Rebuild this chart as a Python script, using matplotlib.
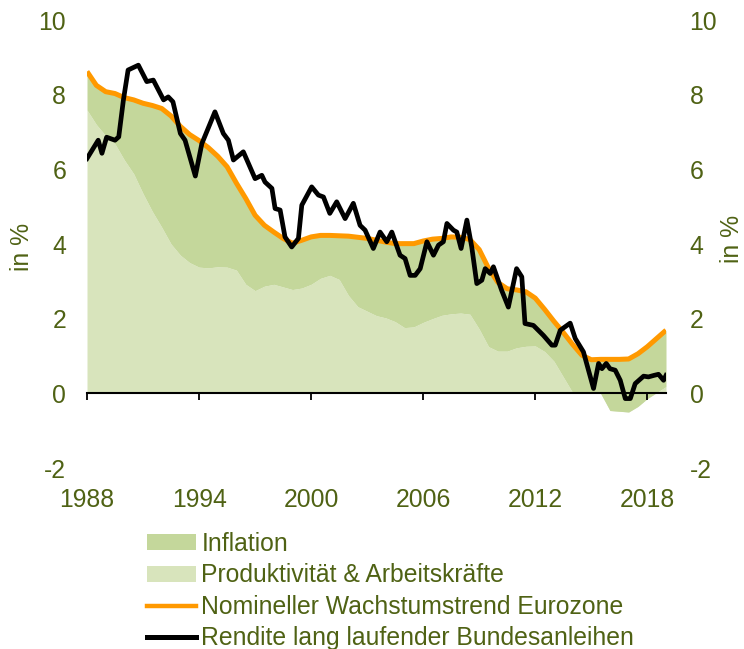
import numpy as np
import matplotlib
matplotlib.use("Agg")
import matplotlib.pyplot as plt
from matplotlib.patches import Patch
from matplotlib.lines import Line2D

plt.rcParams['font.family'] = ['Liberation Sans', 'DejaVu Sans']
plt.rcParams['axes.unicode_minus'] = False

# Halbjahresraster fuer die Flaechen
area_years = np.arange(1988.0, 2019.01, 0.5)

# Nomineller Wachstumstrend Eurozone (Oberkante der Flaechen)
trend = [8.62, 8.25, 8.08, 8.03, 7.92, 7.86, 7.77, 7.71, 7.63, 7.43,
         7.15, 6.93, 6.77, 6.58, 6.35, 6.07, 5.63, 5.22, 4.77, 4.50,
         4.32, 4.15, 4.02, 4.10, 4.19, 4.23, 4.23, 4.22, 4.21, 4.18,
         4.15, 4.10, 4.05, 4.01, 4.01, 4.01, 4.08, 4.13, 4.15, 4.19,
         4.18, 4.12, 3.85, 3.35, 2.97, 2.80, 2.77, 2.72, 2.55, 2.25,
         1.93, 1.63, 1.31, 1.02, 0.90, 0.91, 0.91, 0.91, 0.92, 1.06,
         1.25, 1.47, 1.69]

# Produktivitaet & Arbeitskraefte
produktivitaet = [7.59, 7.20, 6.90, 6.68, 6.25, 5.88, 5.35, 4.87, 4.45, 4.00,
                  3.70, 3.50, 3.38, 3.36, 3.39, 3.38, 3.30, 2.92, 2.75, 2.87,
                  2.92, 2.85, 2.78, 2.82, 2.92, 3.08, 3.16, 3.05, 2.62, 2.32,
                  2.20, 2.08, 2.02, 1.92, 1.76, 1.78, 1.90, 2.00, 2.09, 2.13,
                  2.15, 2.12, 1.72, 1.25, 1.13, 1.13, 1.22, 1.26, 1.27, 1.12,
                  0.86, 0.44, 0.02, 0.00, 0.00, 0.00, -0.46, -0.48, -0.50, -0.35,
                  -0.14, 0.02, 0.18]

# Rendite lang laufender Bundesanleihen
rendite_years = [1988.0, 1988.6, 1988.8, 1989.05, 1989.5, 1989.7, 1989.95, 1990.2,
                 1990.75, 1991.2, 1991.55, 1992.1, 1992.35, 1992.6, 1993.0, 1993.25,
                 1993.8, 1994.15, 1994.85, 1995.3, 1995.57, 1995.84, 1996.37, 1997.0,
                 1997.36, 1997.53, 1997.9, 1998.07, 1998.34, 1998.6, 1998.96, 1999.32,
                 1999.5, 2000.03, 2000.39, 2000.66, 2001.0, 2001.37, 2001.82, 2002.26,
                 2002.62, 2002.89, 2003.33, 2003.69, 2004.05, 2004.32, 2004.76, 2005.03,
                 2005.3, 2005.57, 2005.84, 2006.2, 2006.55, 2006.82, 2007.08, 2007.27,
                 2007.62, 2007.8, 2008.03, 2008.34, 2008.6, 2008.87, 2009.14, 2009.32,
                 2009.59, 2009.76, 2010.2, 2010.56, 2011.0, 2011.28, 2011.45, 2011.9,
                 2012.44, 2012.89, 2013.07, 2013.34, 2013.87, 2014.14, 2014.58, 2015.12,
                 2015.39, 2015.57, 2015.8, 2016.0, 2016.28, 2016.55, 2016.82, 2017.09,
                 2017.35, 2017.8, 2018.06, 2018.35, 2018.6, 2018.87, 2019.0]
rendite = [6.29, 6.78, 6.43, 6.86, 6.78, 6.87, 7.86, 8.66,
           8.79, 8.35, 8.39, 7.86, 7.94, 7.81, 6.96, 6.78,
           5.82, 6.69, 7.54, 6.96, 6.78, 6.25, 6.47, 5.75,
           5.84, 5.66, 5.49, 4.95, 4.91, 4.19, 3.92, 4.15,
           5.04, 5.53, 5.31, 5.26, 4.82, 5.13, 4.68, 5.09,
           4.50, 4.37, 3.88, 4.32, 4.06, 4.32, 3.70, 3.61,
           3.16, 3.16, 3.34, 4.06, 3.70, 3.97, 4.06, 4.55,
           4.37, 4.32, 3.88, 4.64, 3.92, 2.94, 3.03, 3.34,
           3.21, 3.39, 2.76, 2.31, 3.34, 3.12, 1.87, 1.82,
           1.55, 1.29, 1.29, 1.69, 1.88, 1.47, 1.11, 0.13,
           0.80, 0.66, 0.80, 0.66, 0.62, 0.35, -0.14, -0.14,
           0.26, 0.46, 0.44, 0.48, 0.51, 0.35, 0.48]

x_ticks = [1988, 1994, 2000, 2006, 2012, 2018]
y_ticks = [-2, 0, 2, 4, 6, 8, 10]

text_col = "#4F6214"
col_infl = "#C4D79B"
col_prod = "#D8E4BC"
col_trend = "#FF9900"
fs = 17.8

fig = plt.figure(figsize=(7.44, 6.49), dpi=100)
ax = fig.add_axes([87/744, 1-468/649, (666-87)/744, 448/649])

# gestapelte Flaechen wie in Excel
ax.fill_between(area_years, 0, produktivitaet, color=col_prod, lw=0)
ax.fill_between(area_years, produktivitaet, trend, color=col_infl, lw=0)
ax.plot(area_years, trend, color=col_trend, lw=3.6, solid_capstyle='butt')
ax.plot(rendite_years, rendite, color="black", lw=3.4, solid_joinstyle='round')

ax.set_xlim(1988, 2019)
ax.set_ylim(-2, 10)
for s in ["left", "right", "top"]:
    ax.spines[s].set_visible(False)
ax.spines["bottom"].set_position(("data", 0))
ax.spines["bottom"].set_linewidth(1.5)
ax.spines["bottom"].set_zorder(5)

ax.set_xticks(x_ticks)
ax.set_xticklabels([str(t) for t in x_ticks])
ax.tick_params(axis="x", direction="out", length=5, width=1.3, pad=63,
               labelsize=fs, labelcolor=text_col)
ax.set_yticks(y_ticks)
ax.tick_params(axis="y", length=0, pad=15, labelsize=fs, labelcolor=text_col)

ax2 = ax.twinx()
ax2.set_ylim(-2, 10)
for s in ax2.spines.values():
    s.set_visible(False)
ax2.set_yticks(y_ticks)
ax2.tick_params(axis="y", length=0, pad=17, labelsize=fs, labelcolor=text_col)

fig.text(22/744, 1-247/649, "in %", rotation=90, ha="center", va="center",
         fontsize=fs, color=text_col)
fig.text(732/744, 1-239/649, "in %", rotation=90, ha="center", va="center",
         fontsize=fs, color=text_col)

handles = [
    Patch(facecolor=col_infl, edgecolor="none"),
    Patch(facecolor=col_prod, edgecolor="none"),
    Line2D([], [], color=col_trend, lw=3.2),
    Line2D([], [], color="black", lw=3.6),
]
labels = ["Inflation", "Produktivität & Arbeitskräfte",
          "Nomineller Wachstumstrend Eurozone",
          "Rendite lang laufender Bundesanleihen"]
leg = fig.legend(handles, labels, loc="upper left",
                 bbox_to_anchor=(147/744, 1-532/649), frameon=False,
                 fontsize=fs, handlelength=2.0, handleheight=0.6,
                 handletextpad=0.2, labelspacing=0.3, borderpad=0,
                 borderaxespad=0)
for t in leg.get_texts():
    t.set_color(text_col)

fig.savefig("out.png", dpi=100)
